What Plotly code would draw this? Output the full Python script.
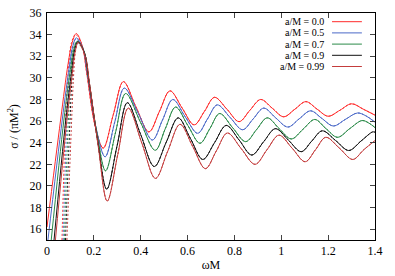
import plotly.graph_objects as go

# ---- data (omega*M, sigma/(pi M^2)) ----
LABELS = ["a/M = 0.0", "a/M = 0.5", "a/M = 0.7", "a/M = 0.9", "a/M = 0.99"]
COLORS = ["#ff2a2a", "#4a68c8", "#2a8a48", "#111111", "#c43c3c"]

W_00 = [0, 0.058, 0.09, 0.108, 0.125, 0.15, 0.17, 0.205, 0.24, 0.283, 0.326, 0.38, 0.435, 0.48, 0.525,
        0.577, 0.628, 0.672, 0.715, 0.768, 0.82, 0.866, 0.912, 0.961, 1.01, 1.058, 1.105, 1.153, 1.2,
        1.25, 1.3, 1.35, 1.4]
S_00 = [16.2, 26.1, 31.3, 33.3, 34.1, 33.0, 30.4, 25.6, 23.5, 26.6, 29.65, 27.3, 25.0, 26.9, 28.8,
        27.2, 25.65, 26.9, 28.2, 27.1, 25.95, 27.0, 28.0, 27.2, 26.4, 27.1, 27.8, 27.1, 26.45,
        27.0, 27.6, 27.1, 26.55]

W_05 = [0.004, 0.065, 0.095, 0.11, 0.125, 0.152, 0.175, 0.21, 0.248, 0.289, 0.33, 0.39, 0.45, 0.493,
        0.537, 0.59, 0.643, 0.685, 0.727, 0.781, 0.835, 0.88, 0.925, 0.976, 1.028, 1.076, 1.125, 1.173,
        1.222, 1.273, 1.325, 1.36, 1.4]
S_05 = [15, 26.1, 31.0, 32.9, 33.7, 32.8, 30.0, 25.3, 22.7, 25.9, 29.05, 26.7, 24.25, 26.1,
        28.0, 26.4, 24.87, 26.2, 27.5, 26.35, 25.2, 26.2, 27.2, 26.3, 25.45, 26.2, 26.95, 26.25,
        25.55, 26.15, 26.75, 26.5, 25.9]

W_07 = [0.018, 0.072, 0.1, 0.115, 0.13, 0.157, 0.178, 0.213, 0.25, 0.293, 0.336, 0.399, 0.462, 0.505,
        0.549, 0.601, 0.653, 0.695, 0.737, 0.792, 0.848, 0.894, 0.94, 0.991, 1.043, 1.093, 1.143, 1.191,
        1.24, 1.292, 1.345, 1.375, 1.4]
S_07 = [15, 26.1, 30.8, 32.7, 33.4, 32.5, 29.8, 24.9, 21.4, 25.0, 28.55, 25.9, 23.3, 25.3,
        27.3, 25.6, 23.95, 25.3, 26.7, 25.4, 24.1, 25.2, 26.3, 25.3, 24.35, 25.25, 26.15, 25.3,
        24.5, 25.3, 26.05, 25.8, 25.4]

W_09 = [0.03, 0.08, 0.105, 0.118, 0.132, 0.16, 0.18, 0.216, 0.255, 0.299, 0.343, 0.4, 0.458, 0.509,
        0.56, 0.612, 0.665, 0.715, 0.765, 0.82, 0.874, 0.925, 0.975, 1.03, 1.085, 1.13, 1.175, 1.232,
        1.288, 1.34, 1.39, 1.4]
S_09 = [15, 26.1, 30.6, 32.6, 33.35, 32.3, 29.6, 24.2, 19.7, 23.7, 27.7, 24.75, 21.8, 24.05,
        26.3, 24.4, 22.45, 24.0, 25.6, 24.25, 22.86, 24.1, 25.3, 24.25, 23.17, 24.15, 25.1, 24.2,
        23.28, 24.15, 25.0, 24.97]

W_099 = [0.036, 0.085, 0.108, 0.12, 0.134, 0.162, 0.182, 0.218, 0.257, 0.302, 0.347, 0.405, 0.463,
         0.515, 0.568, 0.622, 0.676, 0.723, 0.77, 0.829, 0.888, 0.939, 0.99, 1.046, 1.102, 1.146, 1.19,
         1.248, 1.305, 1.352, 1.4]
S_099 = [15, 26.1, 30.4, 32.4, 33.3, 32.1, 29.4, 23.8, 18.6, 22.9, 27.2, 23.95, 20.7,
         23.2, 25.7, 23.65, 21.6, 23.25, 24.9, 23.45, 22.0, 23.35, 24.7, 23.5, 22.24, 23.35, 24.5,
         23.5, 22.45, 23.35, 24.2]

# dotted (approximation) curves: low-frequency part read separately,
# beyond omega ~ 0.15 they lie on top of the exact curves
DOT_W_00 = [0.064, 0.079, 0.089, 0.105, 0.122]
DOT_S_00 = [15, 26.0, 30.0, 33.3, 34.0]
DOT_W_05 = [0.069, 0.085, 0.095, 0.11, 0.125]
DOT_S_05 = [15, 26.0, 30.0, 33.0, 33.6]
DOT_W_07 = [0.074, 0.091, 0.101, 0.114, 0.128]
DOT_S_07 = [15, 26.0, 30.0, 32.8, 33.35]
DOT_W_09 = [0.079, 0.098, 0.107, 0.118, 0.13]
DOT_S_09 = [15, 26.0, 30.0, 32.7, 33.3]
DOT_W_099 = [0.085, 0.105, 0.113, 0.122, 0.132]
DOT_S_099 = [15, 26.0, 30.0, 32.5, 33.2]

X_TICKS = [0, 0.2, 0.4, 0.6, 0.8, 1.0, 1.2, 1.4]
X_TICK_TEXT = ["0", "0.2", "0.4", "0.6", "0.8", "1", "1.2", "1.4"]
Y_TICKS = [16, 18, 20, 22, 24, 26, 28, 30, 32, 34, 36]

solid = [(W_00, S_00), (W_05, S_05), (W_07, S_07), (W_09, S_09), (W_099, S_099)]
dotted_low = [(DOT_W_00, DOT_S_00), (DOT_W_05, DOT_S_05), (DOT_W_07, DOT_S_07),
              (DOT_W_09, DOT_S_09), (DOT_W_099, DOT_S_099)]

FONT = "Liberation Serif"
fig = go.Figure()

for i, ((w, s), (dw, ds)) in enumerate(zip(solid, dotted_low)):
    tail = [(a, b) for a, b in zip(w, s) if a > dw[-1] + 0.01]
    fw = dw + [a for a, _ in tail]
    fs = ds + [b for _, b in tail]
    fig.add_trace(go.Scatter(x=fw, y=fs, mode="lines", showlegend=False,
                             line=dict(color=COLORS[i], width=1, dash="2px,2px", shape="spline")))

for i, (w, s) in enumerate(solid):
    fig.add_trace(go.Scatter(x=w, y=s, mode="lines", name=LABELS[i], showlegend=False,
                             line=dict(color=COLORS[i], width=1, shape="spline")))

# gnuplot-style key: text right-aligned, sample line to its right
annotations = []
shapes = []
ROW_H = 11.2 / 227.0
for i, lab in enumerate(LABELS):
    yk = 1 - (21.7 - 13) / 227.0 - i * ROW_H
    annotations.append(dict(xref="paper", yref="paper", x=0.848, y=yk, text=lab, showarrow=False,
                            xanchor="right", yanchor="middle", borderpad=0,
                            font=dict(family=FONT, size=10, color="black")))
    shapes.append(dict(type="line", xref="paper", yref="paper", x0=0.869, x1=0.960, y0=yk, y1=yk,
                       line=dict(color=COLORS[i], width=1)))

fig.update_layout(
    width=395, height=276,
    margin=dict(l=47, r=20, t=13, b=36),
    paper_bgcolor="white", plot_bgcolor="white",
    font=dict(family=FONT, size=12, color="black"),
    annotations=annotations, shapes=shapes,
    xaxis=dict(range=[0, 1.4], tickvals=X_TICKS, ticktext=X_TICK_TEXT, ticks="inside", ticklen=5,
               ticklabelstandoff=0, automargin=False,
               showline=True, mirror="allticks", linecolor="black", linewidth=1, showgrid=False,
               zeroline=False, title=dict(text="ωM", standoff=3, font=dict(size=12))),
    yaxis=dict(range=[15, 36], tickvals=Y_TICKS, ticks="inside", ticklen=5,
               ticklabelstandoff=2, automargin=False,
               showline=True, mirror="allticks", linecolor="black", linewidth=1, showgrid=False,
               zeroline=False, title=dict(text="σ / (πM<sup>2</sup>)", standoff=8, font=dict(size=12))),
)

fig.write_html("out.html", config={"displayModeBar": False},
               post_script="document.body.style.margin='0';document.body.style.overflow='hidden';")
